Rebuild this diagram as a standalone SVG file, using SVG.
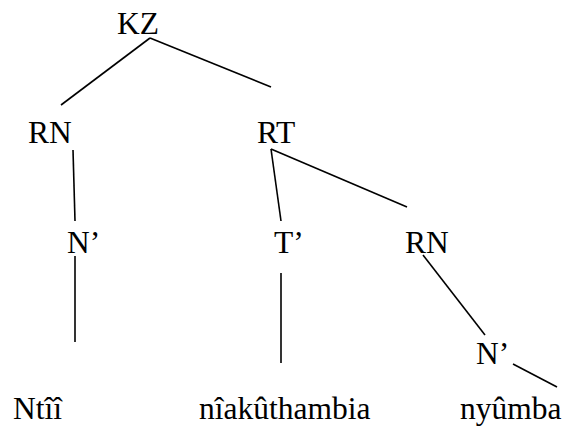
<svg xmlns="http://www.w3.org/2000/svg" width="565" height="426" viewBox="0 0 565 426">
<style>
text{font-family:"Liberation Serif","Times New Roman",serif;font-size:31.5px;fill:#000}
.e line{stroke:#000;stroke-width:1.6;fill:none}
</style>
<rect width="565" height="426" fill="#fff"/>
<g class="e" id="connectors">
<line x1="150" y1="38" x2="61" y2="105"/>
<line x1="150" y1="38" x2="271" y2="87"/>
<line x1="73" y1="150" x2="75" y2="221"/>
<line x1="75" y1="256" x2="75" y2="342"/>
<line x1="271" y1="149" x2="281" y2="221"/>
<line x1="271" y1="149" x2="407" y2="207"/>
<line x1="281" y1="273" x2="281" y2="363"/>
<line x1="423" y1="255" x2="485" y2="335"/>
<line x1="513" y1="364" x2="557" y2="387"/>
</g>
<g id="KZ"><text x="117" y="34">KZ</text></g>
<g id="RN1"><text x="28" y="143">RN</text></g>
<g id="RT"><text x="257" y="143">RT</text></g>
<g id="N1"><text x="67" y="253">N’</text></g>
<g id="T1"><text x="274" y="253">T’</text></g>
<g id="RN2"><text x="405" y="253">RN</text></g>
<g id="N2"><text x="476" y="364">N’</text></g>
<g id="Ntii"><text x="13" y="419">Ntîî</text></g>
<g id="niakuthambia"><text x="199" y="419">nîakûthambia</text></g>
<g id="nyumba"><text x="460" y="419">nyûmba</text></g>
</svg>
